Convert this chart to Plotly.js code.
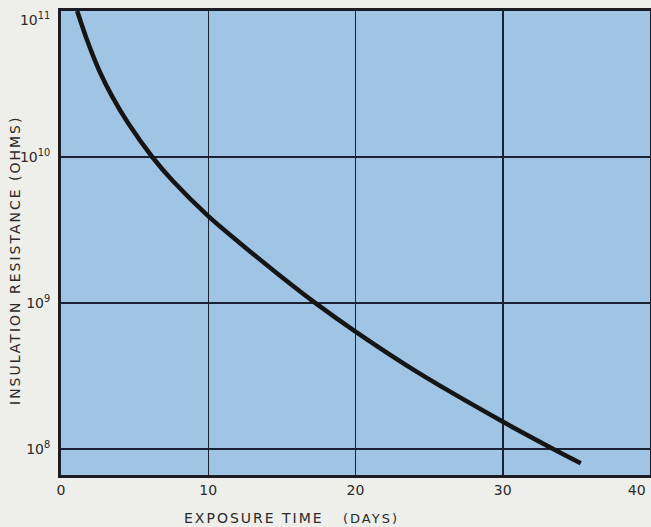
<!DOCTYPE html>
<html>
<head>
<meta charset="utf-8">
<script src="https://cdn.plot.ly/plotly-3.0.1.min.js"></script>
<style>
html,body{margin:0;padding:0;background:#eeeeeb;}
#chart{width:651px;height:527px;}
.annotation-text{letter-spacing:2px;}
</style>
</head>
<body>
<div id="chart"></div>
<script>
// Exposure time (days) and insulation resistance (ohms)
const days = [1.1, 1.8, 2.6, 3.5, 4.6, 6.2, 7.6, 10.0, 12.2, 14.9, 17.1, 20.1, 24.2, 29.8, 33.2, 35.3];
const resistance = [1.0e11, 6.2e10, 3.9e10, 2.57e10, 1.68e10, 1.0e10, 6.84e9, 3.94e9, 2.55e9, 1.53e9, 1.03e9, 6.27e8, 3.36e8, 1.58e8, 1.03e8, 8.0e7];

const xTickVals = [0, 10, 20, 30, 40];
const xTickText = ["0", "10", "20", "30", "40&nbsp;&nbsp;&nbsp;&nbsp;&nbsp;&nbsp;"];
const yTickVals = [1e8, 1e9, 1e10, 1e11];
const yTickText = ["10<sup>8</sup>", "10<sup>9</sup>", "10<sup>10</sup>", "<br>10<sup>11</sup>"];

const trace = {
  x: days, y: resistance, type: "scatter", mode: "lines",
  line: {color: "#151515", width: 4.5, shape: "spline", smoothing: 0.9},
  hoverinfo: "skip"
};

const FONT = "DejaVu Sans, sans-serif";
const TXT = "#2a2a2a";

const layout = {
  width: 651, height: 527,
  margin: {l: 61, r: 1, t: 11, b: 52},
  paper_bgcolor: "#eeeeeb",
  plot_bgcolor: "#a0c4e3",
  showlegend: false,
  font: {family: FONT, size: 14, color: TXT},
  xaxis: {
    range: [0, 40], tickvals: xTickVals, ticktext: xTickText,
    showgrid: true, gridcolor: "#1c2233", gridwidth: 1.5,
    showline: true, mirror: true, linecolor: "#1c1c24", linewidth: 3,
    zeroline: false, ticks: "", ticklen: 0,
    ticklabeloverflow: "allow",
    tickfont: {family: FONT, size: 14, color: TXT},
    fixedrange: true
  },
  yaxis: {
    type: "log", range: [7.822, 11],
    tickvals: yTickVals, ticktext: yTickText,
    showgrid: true, gridcolor: "#1c2233", gridwidth: 1.5,
    showline: true, mirror: true, linecolor: "#1c1c24", linewidth: 3,
    zeroline: false, ticks: "", ticklen: 0,
    ticklabelstandoff: 5,
    ticklabeloverflow: "allow",
    tickfont: {family: FONT, size: 14, color: TXT},
    automargin: false,
    fixedrange: true
  },
  annotations: [
    {
      text: "EXPOSURE TIME&nbsp;&nbsp;&nbsp;<span style='font-size:13px'>(DAYS)</span>",
      xref: "paper", yref: "paper", x: (291 - 61) / 589, y: -0.092,
      xanchor: "center", yanchor: "middle", showarrow: false,
      font: {family: FONT, size: 14, color: TXT}
    },
    {
      text: "INSULATION RESISTANCE (OHMS)",
      xref: "paper", yref: "paper", x: (15 - 61) / 589, y: (475 - 261) / 464,
      xanchor: "center", yanchor: "middle", showarrow: false, textangle: -90,
      font: {family: FONT, size: 14, color: TXT}
    }
  ]
};

Plotly.newPlot("chart", [trace], layout, {displayModeBar: false, staticPlot: true});
</script>
</body>
</html>
